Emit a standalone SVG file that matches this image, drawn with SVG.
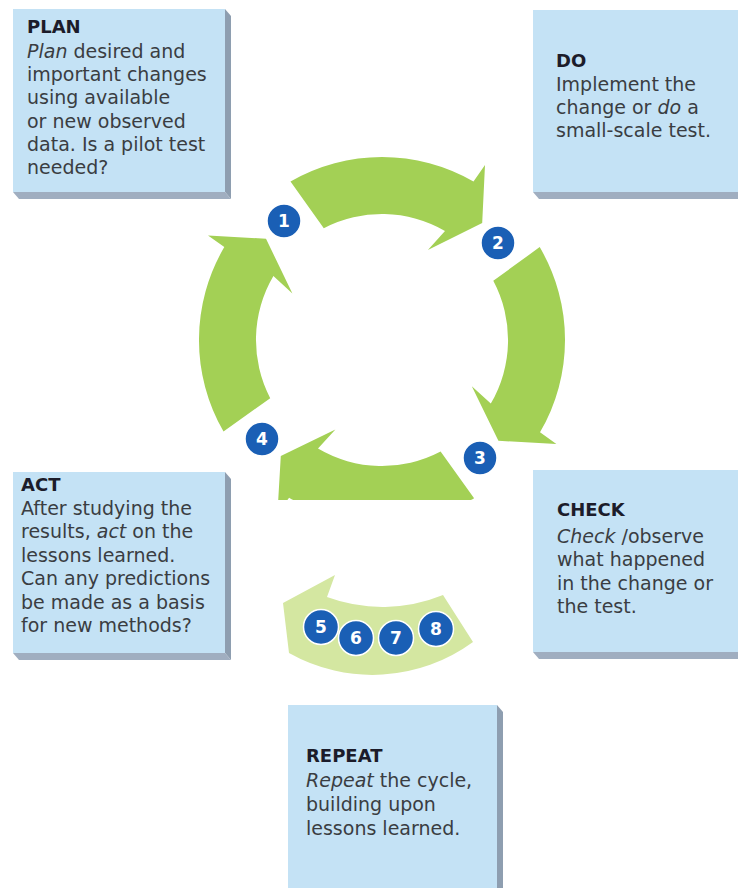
<svg xmlns="http://www.w3.org/2000/svg" width="738" height="888" viewBox="0 0 738 888">
<style>
.face{fill:#c4e2f5}
.sideR{fill:#8e9eb0}
.sideB{fill:#a0aec0}
.t{font-family:"DejaVu Sans","Verdana",sans-serif;font-weight:bold;font-size:18px;fill:#1c1c2a}
.b{font-family:"DejaVu Sans","Verdana",sans-serif;font-size:19px;fill:#3a3d42}
.arr{fill:#a3d055}
.arr2{fill:#d4e7a1}
.dot{fill:#1a5fb5;stroke:#ffffff;stroke-width:1.5}
.n{font-family:"DejaVu Sans","Verdana",sans-serif;font-weight:bold;font-size:17px;fill:#ffffff;text-anchor:middle}
</style>
<defs>
<clipPath id="clipBottom"><rect x="0" y="0" width="738" height="500"/></clipPath>
</defs>
<rect width="738" height="888" fill="#ffffff"/>

<g id="connectors">
<path class="arr" d="M290.5 181.5 A183 183 0 0 1 473.5 181.5 L485 165.1 L482.2 223 L427.9 250 L445 230.9 A126 126 0 0 0 323.8 228.2 Z"/>
<path class="arr" d="M539.7 247.1 A183 183 0 0 1 540 432.3 L556.4 443.9 L498.4 440.8 L471.8 386.3 L490.8 403.6 A126 126 0 0 0 493.3 280.8 Z"/>
<path class="arr" clip-path="url(#clipBottom)" d="M474.1 498.2 A183 183 0 0 1 289.1 497.7 L277.4 514 L280.8 456 L335.4 429.6 L318 448.6 A126 126 0 0 0 440.6 451.6 Z"/>
<path class="arr" d="M223.5 431.5 A183 183 0 0 1 224.3 247.1 L208 235.4 L266 238.8 L292.4 293.4 L273.4 276.1 A126 126 0 0 0 270.2 398.2 Z"/>
<path class="arr2" d="M335 575 L283 603 L289 653 A170 170 0 0 0 473 642 L443 595 A160 160 0 0 1 327 597 Z"/>
</g>

<g id="step1"><circle class="dot" cx="284" cy="221" r="17"/><text class="n" x="284" y="227">1</text></g>
<g id="step2"><circle class="dot" cx="498" cy="243" r="17"/><text class="n" x="498" y="249">2</text></g>
<g id="step3"><circle class="dot" cx="480" cy="458" r="17"/><text class="n" x="480" y="464">3</text></g>
<g id="step4"><circle class="dot" cx="262" cy="439" r="17"/><text class="n" x="262" y="445">4</text></g>
<g id="step5"><circle class="dot" cx="321" cy="627" r="17.5"/><text class="n" x="321" y="633">5</text></g>
<g id="step6"><circle class="dot" cx="356" cy="638" r="17.5"/><text class="n" x="356" y="644">6</text></g>
<g id="step7"><circle class="dot" cx="396" cy="638" r="17.5"/><text class="n" x="396" y="644">7</text></g>
<g id="step8"><circle class="dot" cx="436" cy="629" r="17.5"/><text class="n" x="436" y="635">8</text></g>

<g id="plan">
<polygon class="sideR" points="225,9 231,16 231,199 225,192"/>
<polygon class="sideB" points="13,192 19,199 231,199 225,192"/>
<rect class="face" x="13" y="9" width="212" height="183"/>
<text class="t" x="27" y="33">PLAN</text>
<text class="b" x="27" y="58"><tspan font-style="italic">Plan</tspan> desired and</text>
<text class="b" x="27" y="81">important changes</text>
<text class="b" x="27" y="104">using available</text>
<text class="b" x="27" y="128">or new observed</text>
<text class="b" x="27" y="151">data. Is a pilot test</text>
<text class="b" x="27" y="174">needed?</text>
</g>

<g id="do">
<polygon class="sideB" points="533,192 539,199 738,199 738,192"/>
<rect class="face" x="533" y="10" width="205" height="182"/>
<text class="t" x="556" y="67">DO</text>
<text class="b" x="556" y="91">Implement the</text>
<text class="b" x="556" y="114">change or <tspan font-style="italic">do</tspan> a</text>
<text class="b" x="556" y="137">small-scale test.</text>
</g>

<g id="act">
<polygon class="sideR" points="225,472 231,479 231,660 225,653"/>
<polygon class="sideB" points="13,653 19,660 231,660 225,653"/>
<rect class="face" x="13" y="472" width="212" height="181"/>
<text class="t" x="21" y="491">ACT</text>
<text class="b" x="21" y="515">After studying the</text>
<text class="b" x="21" y="538">results, <tspan font-style="italic">act</tspan> on the</text>
<text class="b" x="21" y="562">lessons learned.</text>
<text class="b" x="21" y="585">Can any predictions</text>
<text class="b" x="21" y="609">be made as a basis</text>
<text class="b" x="21" y="632">for new methods?</text>
</g>

<g id="check">
<polygon class="sideB" points="533,652 539,659 738,659 738,652"/>
<rect class="face" x="533" y="470" width="205" height="182"/>
<text class="t" x="557" y="516">CHECK</text>
<text class="b" x="557" y="543"><tspan font-style="italic">Check</tspan> /observe</text>
<text class="b" x="557" y="566">what happened</text>
<text class="b" x="557" y="590">in the change or</text>
<text class="b" x="557" y="613">the test.</text>
</g>

<g id="repeat">
<polygon class="sideR" points="497,705 503,712 503,888 497,888"/>
<rect class="face" x="288" y="705" width="209" height="183"/>
<text class="t" x="306" y="762">REPEAT</text>
<text class="b" x="306" y="787"><tspan font-style="italic">Repeat</tspan> the cycle,</text>
<text class="b" x="306" y="811">building upon</text>
<text class="b" x="306" y="835">lessons learned.</text>
</g>
</svg>
